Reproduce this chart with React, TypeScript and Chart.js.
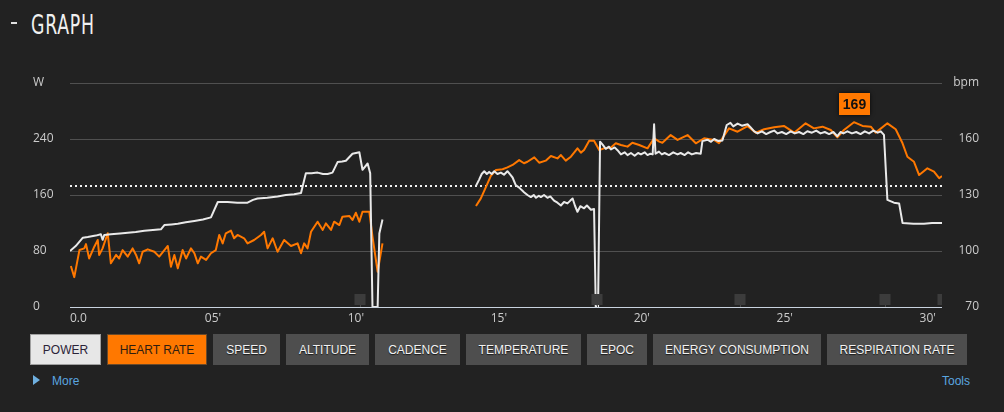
import React, { useEffect, useRef } from "react";
import { Chart, registerables } from "chart.js";

Chart.register(...registerables);

// ---- data (minutes / watts / bpm); null = recording gap ----
const powerTime = [
  0.0, 0.2, 0.45, 0.62, 0.9, 1.08, 1.14, 1.2, 1.43, 1.75, 2.02, 2.3, 2.6, 2.9, 3.18, 3.3, 3.55, 3.77, 4.05, 4.35,
  4.65, 4.93, 5.17, 5.51, 5.85, 6.21, 6.4, 6.56, 6.9, 7.26, 7.55, 7.84, 8.08, 8.25, 8.45, 8.66, 8.85, 9.01, 9.18,
  9.36, 9.52, 9.65, 9.88, 10.0, 10.12, 10.23, 10.41, 10.5, 10.58, 10.76, 10.82, 10.93,
  12.5,
  14.2, 14.31, 14.4, 14.49, 14.58, 14.66, 14.75, 14.84, 14.95, 15.07,
  15.18, 15.3, 15.4, 15.48, 15.59, 15.7, 15.8, 15.88, 16.0, 16.12,
  16.22, 16.3, 16.4, 16.47, 16.58, 16.7, 16.8, 16.93, 17.05, 17.17,
  17.28, 17.4, 17.5, 17.58, 17.66, 17.75, 17.85, 17.98, 18.08, 18.22,
  18.33, 18.39, 18.47, 18.54, 18.63, 18.74, 18.85, 18.92, 19.05, 19.15,
  19.27, 19.4, 19.5, 19.62, 19.75, 19.87, 19.97, 20.1, 20.2, 20.3,
  20.38, 20.43, 20.48, 20.6, 20.7, 20.8, 20.95, 21.1, 21.25, 21.36,
  21.5, 21.62, 21.75, 21.9, 22.06, 22.12, 22.3, 22.42, 22.53, 22.68,
  22.82, 22.97, 23.1, 23.2, 23.35, 23.5, 23.7, 23.8, 23.93, 24.05,
  24.2, 24.35, 24.5, 24.63, 24.75, 24.9, 25.05, 25.21, 25.35, 25.5,
  25.65, 25.79, 25.95, 26.1, 26.25, 26.4, 26.55, 26.7, 26.84, 26.95,
  27.05, 27.19, 27.35, 27.5, 27.65, 27.8, 27.95, 28.1, 28.25, 28.36,
  28.47, 28.59, 28.82, 29.0, 29.12, 29.5, 29.87, 30.15, 30.5,
];
const powerWatts = [
  80, 87, 99, 100, 102, 104, 96, 103, 104, 105, 106, 107, 109, 110, 111, 117, 118, 119, 121, 123,
  125, 128, 150, 150, 149, 149, 153, 155, 156, 158, 160, 161, 163, 191, 191, 192, 190, 190, 192,
  207, 208, 209, 219, 220, 221, 196, 205, 191, 0, 0, 105, 125,
  null,
  173, 182, 190, 194, 190, 193, 190, 194, 190, 192,
  189, 194, 189, 185, 174, 171, 167, 164, 160, 157,
  160, 156, 159, 157, 160, 156, 158, 152, 149, 145,
  150, 148, 152, 155, 145, 136, 144, 141, 145, 139,
  140, 0, 0, 236, 232, 226, 229, 225, 228, 224,
  218, 221, 217, 220, 216, 220, 218, 221, 217, 219,
  218, 261, 219, 222, 218, 220, 217, 221, 218, 220,
  217, 221, 218, 220, 219, 237, 239, 236, 240, 237,
  238, 260, 263, 258, 262, 259, 261, 257, 251, 248,
  251, 247, 250, 252, 248, 250, 247, 251, 248, 250,
  247, 251, 249, 252, 248, 250, 247, 250, 244, 250,
  248, 251, 248, 250, 247, 251, 248, 252, 249, 251,
  246, 153, 149, 148, 120, 119, 119, 120, 120,
];

const hrTime = [
  0.03, 0.15, 0.33, 0.5, 0.56, 0.67, 0.85, 0.97, 1.02, 1.14, 1.32, 1.43, 1.61, 1.72, 1.84, 2.02, 2.19, 2.31, 2.42,
  2.54, 2.72, 2.95, 3.12, 3.42, 3.53, 3.65, 3.77, 3.94, 4.06, 4.23, 4.35, 4.47, 4.58, 4.76, 4.93, 5.1, 5.22, 5.34,
  5.45, 5.63, 5.74, 5.86, 6.09, 6.21, 6.44, 6.68, 6.79, 6.91, 7.09, 7.26, 7.49, 7.73, 7.96, 8.08, 8.19, 8.31, 8.43,
  8.66, 8.84, 8.95, 9.13, 9.24, 9.42, 9.53, 9.77, 9.88, 10.0, 10.12, 10.23, 10.47, 10.58, 10.76, 10.93,
  12.5,
  14.2, 14.37, 14.55, 14.72, 14.9, 15.13, 15.3, 15.48, 15.71, 15.88, 16.0, 16.24, 16.41, 16.64, 16.82, 17.05,
  17.17, 17.34, 17.52, 17.75, 17.87, 17.98, 18.16, 18.33, 18.51, 18.68, 18.92, 19.09, 19.27, 19.5, 19.67, 19.91,
  20.2, 20.43, 20.61, 20.72, 21.01, 21.25, 21.6, 21.89, 22.18, 22.53, 22.7, 23.05, 23.35, 23.7, 23.99, 24.28,
  24.63, 24.97, 25.33, 25.73, 26.02, 26.32, 26.61, 26.84, 27.07, 27.42, 27.72, 28.01, 28.18, 28.59, 28.88,
  29.12, 29.29, 29.52, 29.7, 29.99, 30.22, 30.4, 30.5,
];
const hrBpm = [
  92, 86, 100.5, 101.4, 103.7, 96, 102.3, 105.9, 97.9, 101.4, 109.5, 93.4, 97.9, 96, 100.5, 97, 101.4, 97.9, 93.4,
  99.6, 100.9, 99.6, 97, 102.7, 91.6, 97.9, 90.7, 100.5, 96, 101.4, 98.8, 93.4, 97, 95.2, 98.8, 100.5, 108.6, 104.1,
  109.5, 110.9, 106.8, 108.6, 106.8, 104.1, 105.9, 108.6, 110.3, 101.4, 106.8, 99.6, 105.9, 102.7, 104.1, 98.8, 104.1, 101.4, 110.3,
  115.7, 111.3, 114.8, 111.3, 115.7, 113.9, 118.4, 118.8, 116.6, 120.5, 115.7, 121, 121, 107.7, 88.9, 104.1,
  null,
  124.1, 128.2, 134.4, 140.2, 143.4, 143.8, 144.8, 146.1, 148.7, 147, 147.8, 150.2, 147.3, 148.4, 150.9, 149.6,
  151.4, 148.4, 150.5, 155, 152.7, 154.1, 159.1, 159.1, 154.1, 155, 155.5, 157.7, 156.8, 155.9, 158, 156.8,
  155, 160.4, 158.6, 158, 162.1, 159.5, 162.1, 157.7, 160.4, 159.5, 157.7, 165.7, 163.9, 166.9, 163.4, 165.2,
  166.3, 167, 163.4, 168.4, 165.7, 166.6, 164.8, 160.9, 164.8, 169, 167, 166.6, 163.4, 168.4, 165.2,
  157.7, 150.5, 147.8, 140.7, 144.3, 142.5, 139, 140.2,
];

const lapTimes = [10.13, 18.42, 23.45, 28.49, 30.52];
const xTickValues = [0, 5, 10, 15, 20, 25, 30];
const xTickLabels = ["0.0", "05'", "10'", "15'", "20'", "25'", "30'"];
const wTickValues = [0, 80, 160, 240];
const bpmTickValues = [70, 100, 130, 160];
const thresholdWatts = 173;
const buttonLabels = [
  "POWER", "HEART RATE", "SPEED", "ALTITUDE", "CADENCE", "TEMPERATURE", "EPOC", "ENERGY CONSUMPTION", "RESPIRATION RATE",
];
const buttonWidths = [71, 100, 67, 83, 85, 115, 60, 168, 140];

const BG = "#222222";
const ORANGE = "#ff7800";
const LABEL = "#cccccc";

const overlayPlugin = {
  id: "overlay",
  beforeDatasetsDraw(chart: any) {
    const { ctx, chartArea, scales } = chart;
    const y = Math.round(scales.yW.getPixelForValue(thresholdWatts));
    ctx.save();
    ctx.strokeStyle = "#f2f2f2";
    ctx.lineWidth = 2;
    ctx.setLineDash([2, 3]);
    ctx.beginPath();
    ctx.moveTo(chartArea.left, y);
    ctx.lineTo(chartArea.right, y);
    ctx.stroke();
    ctx.restore();
  },
  afterDatasetsDraw(chart: any) {
    const { ctx, chartArea, scales } = chart;
    ctx.save();
    // lap markers
    ctx.beginPath();
    ctx.rect(chartArea.left, 0, chartArea.right - chartArea.left, chart.height);
    ctx.clip();
    lapTimes.forEach((t) => {
      const x = Math.round(scales.x.getPixelForValue(t));
      ctx.fillStyle = "#3c3c3c";
      ctx.fillRect(x - 5.5, chartArea.bottom - 13, 11, 11);
      ctx.fillStyle = "#4a4a4a";
      ctx.fillRect(x, chartArea.bottom - 2, 1, 2);
    });
    ctx.restore();

    ctx.save();
    // x axis line
    ctx.strokeStyle = "#c9d3df";
    ctx.lineWidth = 1;
    ctx.beginPath();
    ctx.moveTo(chartArea.left, chartArea.bottom + 0.5);
    ctx.lineTo(chartArea.right, chartArea.bottom + 0.5);
    ctx.stroke();

    // peak heart-rate label
    let maxI = 0;
    hrBpm.forEach((v, i) => {
      if (v !== null && v > (hrBpm[maxI] as number)) maxI = i;
    });
    const px = scales.x.getPixelForValue(hrTime[maxI]);
    const py = scales.yB.getPixelForValue(hrBpm[maxI]);
    const w = 31;
    const h = 22;
    const bx = Math.round(px - w / 2 + 1);
    const by = Math.round(py - 7 - h);
    ctx.shadowColor = "rgba(0,0,0,0.8)";
    ctx.shadowBlur = 4;
    ctx.fillStyle = ORANGE;
    ctx.fillRect(bx, by, w, h);
    ctx.shadowBlur = 0;
    ctx.fillStyle = "#111111";
    ctx.font = 'bold 14px "Liberation Sans", Arial, sans-serif';
    ctx.textAlign = "center";
    ctx.textBaseline = "middle";
    ctx.fillText(String(Math.round(hrBpm[maxI] as number)), bx + w / 2, by + h / 2 + 1);
    ctx.restore();
  },
  afterDraw(chart: any) {
    const { ctx, chartArea, scales } = chart;
    ctx.save();
    ctx.font = '12px "Open Sans", sans-serif';
    ctx.fillStyle = LABEL;
    ctx.textBaseline = "middle";
    // x labels
    xTickValues.forEach((v, i) => {
      const x = scales.x.getPixelForValue(v);
      ctx.textAlign = i === 0 ? "left" : "center";
      ctx.fillText(xTickLabels[i], i === 0 ? chartArea.left : x, chartArea.bottom + 12);
    });
    // left labels
    ctx.textAlign = "left";
    ctx.fillText("W", 33, chartArea.top);
    wTickValues.forEach((v) => {
      ctx.fillText(String(v), 33, scales.yW.getPixelForValue(v));
    });
    // right labels
    ctx.textAlign = "right";
    ctx.fillText("bpm", 979, chartArea.top);
    bpmTickValues.forEach((v) => {
      ctx.fillText(String(v), 979, scales.yB.getPixelForValue(v));
    });
    ctx.restore();
  },
};

function toPoints(ts: number[], vs: (number | null)[]) {
  return ts.map((t, i) => ({ x: t, y: vs[i] }));
}

export default function App() {
  const ref = useRef<HTMLCanvasElement>(null);

  useEffect(() => {
    if (!ref.current) return;
    const chart = new Chart(ref.current, {
      type: "line",
      data: {
        datasets: [
          {
            label: "Power",
            data: toPoints(powerTime, powerWatts) as any,
            yAxisID: "yW",
            borderColor: "#e9e9e9",
            borderWidth: 2,
            pointRadius: 0,
            tension: 0,
            spanGaps: false,
            borderJoinStyle: "round",
          },
          {
            label: "Heart rate",
            data: toPoints(hrTime, hrBpm) as any,
            yAxisID: "yB",
            borderColor: ORANGE,
            borderWidth: 2,
            pointRadius: 0,
            tension: 0,
            spanGaps: false,
            borderJoinStyle: "round",
          },
        ],
      },
      options: {
        animation: false,
        responsive: false,
        parsing: true,
        layout: { padding: { top: 83, left: 0, right: 0, bottom: 0 } },
        plugins: { legend: { display: false }, tooltip: { enabled: false } },
        events: [],
        scales: {
          x: {
            type: "linear",
            min: 0,
            max: 30.5,
            position: "bottom",
            ticks: { display: false },
            grid: { display: false },
            border: { display: false },
            afterFit: (s: any) => {
              s.height = 23;
            },
          },
          yW: {
            type: "linear",
            position: "left",
            min: 0,
            max: 320,
            ticks: { display: false, stepSize: 80 },
            grid: { color: "#505050", lineWidth: 1, drawTicks: false },
            border: { display: false },
            afterFit: (s: any) => {
              s.width = 70;
            },
          },
          yB: {
            type: "linear",
            position: "right",
            min: 70,
            max: 190,
            ticks: { display: false, stepSize: 30 },
            grid: { display: false },
            border: { display: false },
            afterFit: (s: any) => {
              s.width = 62;
            },
          },
        },
      } as any,
      plugins: [overlayPlugin],
    });
    return () => chart.destroy();
  }, []);

  let left = 30;
  const buttons = buttonLabels.map((label, i) => {
    const w = buttonWidths[i];
    const x = left;
    left += w + 6;
    let bg = "#4e4e4e";
    let color = "#f2f2f2";
    let border = "1px solid #4e4e4e";
    let shadow = "0 1px 1px rgba(0,0,0,0.7)";
    if (i === 0) {
      bg = "#e7e7e7";
      color = "#2b2438";
      border = "1px solid #a0a0a0";
      shadow = "none";
    } else if (i === 1) {
      bg = ORANGE;
      color = "#2e1d10";
      border = "1px solid #6a4a2a";
      shadow = "none";
    }
    return (
      <div
        key={label}
        style={{
          position: "absolute",
          left: x,
          top: 334,
          width: w,
          height: 31,
          boxSizing: "border-box",
          background: bg,
          border,
          color,
          textShadow: shadow,
          font: '12px "Liberation Sans", Arial, sans-serif',
          display: "flex",
          alignItems: "center",
          justifyContent: "center",
          whiteSpace: "nowrap",
        }}
      >
        {label}
      </div>
    );
  });

  return (
    <div
      style={{
        position: "fixed",
        left: 0,
        top: 0,
        width: 1004,
        height: 412,
        background: BG,
        overflow: "hidden",
      }}
    >
      <div style={{ position: "absolute", left: 11, top: 22, width: 6, height: 2, background: "#e0e0e0" }} />
      <div
        style={{
          position: "absolute",
          left: 31,
          top: 12,
          font: '26px "DejaVu Sans Condensed", "DejaVu Sans", sans-serif',
          lineHeight: "26px",
          color: "#f0f0f0",
          letterSpacing: 1,
          transform: "scaleX(0.74)",
          transformOrigin: "left top",
          whiteSpace: "nowrap",
        }}
      >
        GRAPH
      </div>
      <canvas ref={ref} width={1004} height={330} style={{ position: "absolute", left: 0, top: 0 }} />
      {buttons}
      <div
        style={{
          position: "absolute",
          left: 33,
          top: 375,
          width: 0,
          height: 0,
          borderLeft: "7px solid #6fb0e0",
          borderTop: "5px solid transparent",
          borderBottom: "5px solid transparent",
        }}
      />
      <div
        style={{
          position: "absolute",
          left: 52,
          top: 373,
          font: '12px "Liberation Sans", Arial, sans-serif',
          lineHeight: "16px",
          color: "#5aa6e0",
        }}
      >
        More
      </div>
      <div
        style={{
          position: "absolute",
          left: 942,
          top: 373,
          font: '12px "Liberation Sans", Arial, sans-serif',
          lineHeight: "16px",
          color: "#5aa6e0",
        }}
      >
        Tools
      </div>
    </div>
  );
}
